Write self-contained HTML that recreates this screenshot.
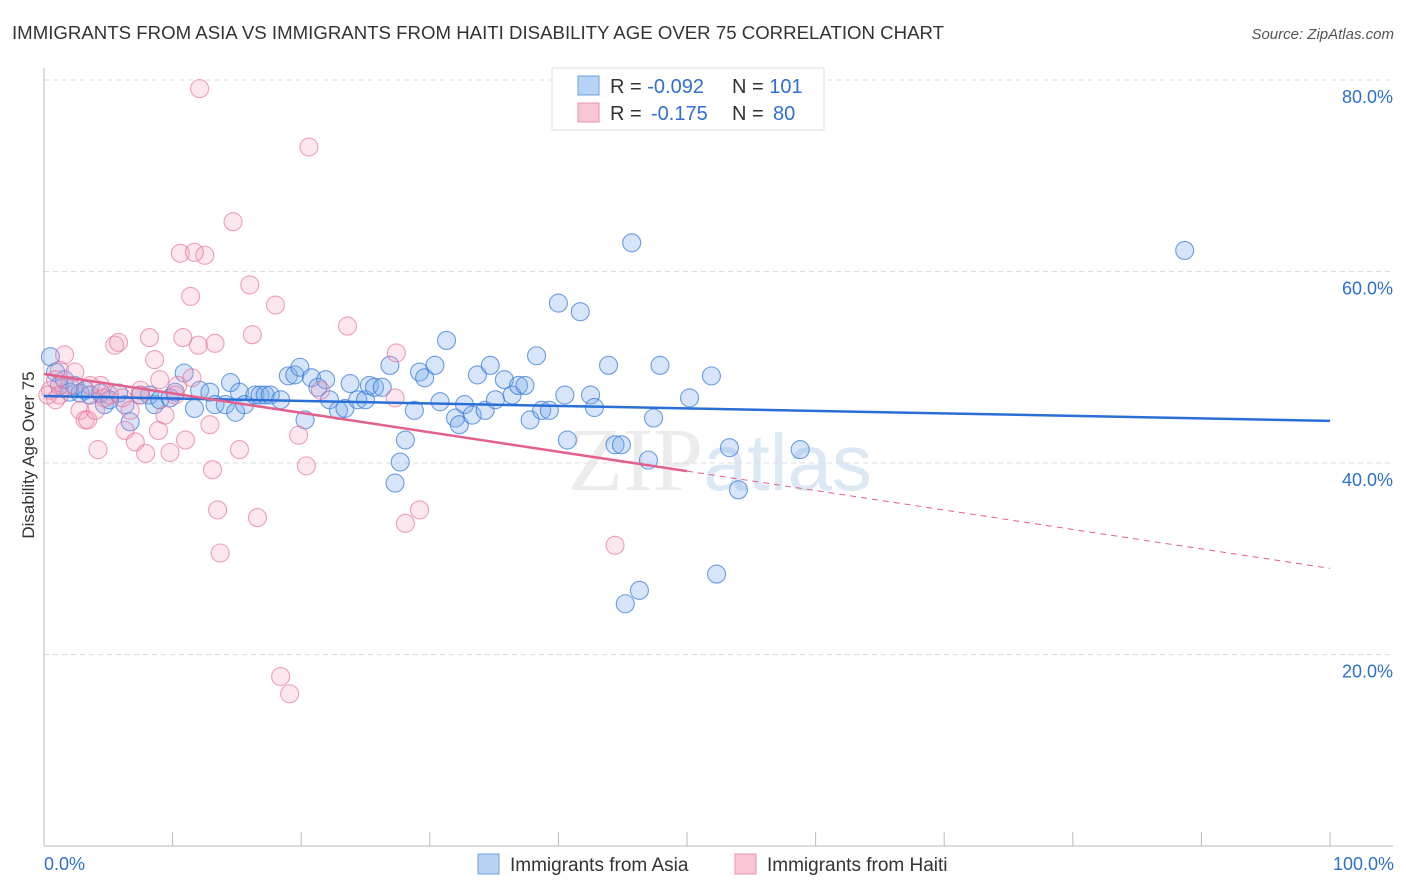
<!DOCTYPE html>
<html><head><meta charset="utf-8"><style>
body{margin:0;background:#fff;font-family:"Liberation Sans",sans-serif;}
svg{display:block}
</style></head><body>
<svg width="1406" height="892" id="chart">
<text x="12" y="39" font-size="18" fill="#333" textLength="932" lengthAdjust="spacingAndGlyphs">IMMIGRANTS FROM ASIA VS IMMIGRANTS FROM HAITI DISABILITY AGE OVER 75 CORRELATION CHART</text>
<text x="1394" y="39" font-size="15" fill="#555" font-style="italic" text-anchor="end">Source: ZipAtlas.com</text>
<text x="720" y="490" font-size="90" fill="#ececec" text-anchor="middle" font-family="Liberation Serif,serif">ZIP<tspan fill="#dde8f5" font-family="Liberation Sans,sans-serif" font-size="80">atlas</tspan></text>
<g id="grid"></g>
<g id="axes"></g>
<g id="pts"></g>
<g id="lines"></g>
<text transform="translate(34,455) rotate(-90)" font-size="17" fill="#333" text-anchor="middle">Disability Age Over 75</text>
<g>
<rect x="552" y="68" width="272" height="62" fill="#fff" stroke="#ddd"/>
<rect x="578" y="76" width="21" height="19" fill="#b8d4f5" stroke="#6fa0e0"/>
<rect x="578" y="103" width="21" height="19" fill="#f9c6d6" stroke="#eb92ae"/>
<text x="610" y="93" font-size="20" fill="#333">R = <tspan fill="#2f6fd0">-0.092</tspan><tspan x="732">N = </tspan><tspan fill="#2f6fd0">101</tspan></text>
<text x="610" y="120" font-size="20" fill="#333">R = <tspan x="651" fill="#2f6fd0">-0.175</tspan><tspan x="732">N = </tspan><tspan x="773" fill="#2f6fd0">80</tspan></text>
</g>
<g>
<rect x="478" y="854" width="21" height="20" fill="#b8d4f5" stroke="#6fa0e0"/>
<text x="510" y="871" font-size="19" fill="#333">Immigrants from Asia</text>
<rect x="735" y="854" width="21" height="20" fill="#f9c6d6" stroke="#eb92ae"/>
<text x="767" y="871" font-size="19" fill="#333">Immigrants from Haiti</text>
</g>
<text x="44" y="870" font-size="18" fill="#2f6fd0">0.0%</text>
<text x="1394" y="870" font-size="18" fill="#2f6fd0" text-anchor="end">100.0%</text>
</svg>
<script>
const yTicks=[20,40,60,80];
const asiaX=[0.5,0.9,1.2,1.6,2.0,2.4,2.8,3.2,3.6,4.4,4.7,5.1,5.8,6.3,6.7,7.5,8.2,8.6,9.0,9.8,10.2,10.9,11.7,12.1,12.9,13.3,14.1,14.5,14.9,15.2,15.6,16.4,16.8,17.2,17.6,18.4,19.0,19.5,19.9,20.3,20.8,21.3,21.9,22.2,22.9,23.4,23.8,24.4,25.0,25.3,25.7,26.3,26.9,27.3,27.7,28.1,28.8,29.2,29.6,30.4,30.8,31.3,32.0,32.3,32.7,33.3,33.7,34.3,34.7,35.1,35.8,36.4,36.9,37.4,37.8,38.3,38.7,39.3,40.0,40.5,40.7,41.7,42.5,42.8,43.9,44.4,44.9,45.2,45.7,46.3,47.0,47.4,47.9,50.2,51.9,52.3,53.3,54.0,58.8,88.7];
const asiaY=[51.1,49.5,48.1,48.7,47.4,48.1,47.3,47.6,47.1,47.3,46.1,46.6,47.3,46.1,44.3,47.1,47.1,46.1,46.6,46.8,47.4,49.4,45.7,47.6,47.4,46.1,46.1,48.4,45.3,47.4,46.1,47.1,47.1,47.1,47.1,46.6,49.1,49.2,50.0,44.5,48.9,47.9,48.7,46.6,45.5,45.7,48.3,46.6,46.6,48.1,47.9,47.9,50.2,37.9,40.1,42.4,45.5,49.5,48.9,50.2,46.4,52.8,44.7,44.0,46.1,45.0,49.2,45.5,50.2,46.6,48.7,47.1,48.1,48.1,44.5,51.2,45.5,45.5,56.7,47.1,42.4,55.8,47.1,45.8,50.2,41.9,41.9,25.3,63.0,26.7,40.3,44.7,50.2,46.8,49.1,28.4,41.6,37.2,41.4,62.2];
const haitiX=[0.5,0.9,1.2,1.6,2.0,2.4,2.8,3.2,3.4,4.0,4.2,4.4,4.7,5.1,5.5,5.8,6.1,6.3,6.7,7.1,7.5,7.9,8.2,8.6,8.9,9.0,9.4,9.8,10.2,10.4,10.8,11.0,11.4,11.5,12.0,12.1,12.5,10.6,11.7,12.9,13.1,13.3,13.5,13.7,14.7,15.2,16.0,16.2,16.6,18.0,18.4,19.1,19.8,20.4,20.6,21.5,23.6,27.3,27.4,28.1,29.2,44.4,1.2,0.9,3.6,7.5,0.3];
const haitiY=[47.6,48.7,49.7,51.3,48.1,49.5,45.5,44.5,44.5,45.5,41.4,48.1,46.8,47.1,52.3,52.6,46.8,43.4,45.5,42.2,47.1,41.0,53.1,50.8,43.4,48.7,45.0,41.1,47.1,48.1,53.1,42.4,57.4,48.9,52.3,79.1,61.7,61.9,62.0,44.0,39.3,52.5,35.1,30.6,65.2,41.4,58.6,53.4,34.3,56.5,17.7,15.9,42.9,39.7,73.0,47.6,54.3,46.8,51.5,33.7,35.1,31.4,47.1,46.6,48.1,47.6,47.1];
const asiaTrend=[47.0,44.4];
const haitiTrend=[49.3,29.0];
const haitiSolidEnd=50;
const NS='http://www.w3.org/2000/svg';
const X=v=>44+v*12.86, Y=v=>846-v*9.575;
function mk(t,a,p){const e=document.createElementNS(NS,t);for(const k in a)e.setAttribute(k,a[k]);document.getElementById(p).appendChild(e);return e;}
yTicks.forEach(t=>{
 const l=mk('line',{x1:44,x2:1393,y1:Y(t),y2:Y(t),stroke:'#ddd','stroke-dasharray':'5,4'},'grid');
 
 
 const tx=mk('text',{x:1393,y:Y(t)+23,'font-size':18,fill:'#2f6fd0','text-anchor':'end'},'grid');
 tx.textContent=t.toFixed(1)+'%';
 
 
});
const ax=mk('line',{x1:44,x2:44,y1:68,y2:846,stroke:'#bbb'},'axes');


const bx=mk('line',{x1:44,x2:1393,y1:846,y2:846,stroke:'#bbb'},'axes');


for(let i=0;i<=10;i++){const t=mk('line',{x1:X(i*10),x2:X(i*10),y1:832,y2:846,stroke:'#bbb'},'axes');
 
 }
asiaX.forEach((v,i)=>{const c=mk('circle',{cx:X(v),cy:Y(asiaY[i]),r:9,fill:'rgba(120,170,235,0.3)',stroke:'rgba(50,120,215,0.7)','stroke-width':1.1},'pts');
 
 });
haitiX.forEach((v,i)=>{const c=mk('circle',{cx:X(v),cy:Y(haitiY[i]),r:9,fill:'rgba(245,160,190,0.25)',stroke:'rgba(230,110,150,0.65)','stroke-width':1.1},'pts');
 
 });
const b=mk('line',{x1:X(0),y1:Y(asiaTrend[0]),x2:X(100),y2:Y(asiaTrend[1]),stroke:'#2a6fd6','stroke-width':2.5},'lines');


const hm=haitiTrend[0]+(haitiTrend[1]-haitiTrend[0])*haitiSolidEnd/100;
const p1=mk('line',{x1:X(0),y1:Y(haitiTrend[0]),x2:X(haitiSolidEnd),y2:Y(hm),stroke:'#e4608c','stroke-width':2.5},'lines');


const p2=mk('line',{x1:X(haitiSolidEnd),y1:Y(hm),x2:X(100),y2:Y(haitiTrend[1]),stroke:'#e4608c','stroke-width':1,'stroke-dasharray':'6,5'},'lines');


</script>
</body></html>
